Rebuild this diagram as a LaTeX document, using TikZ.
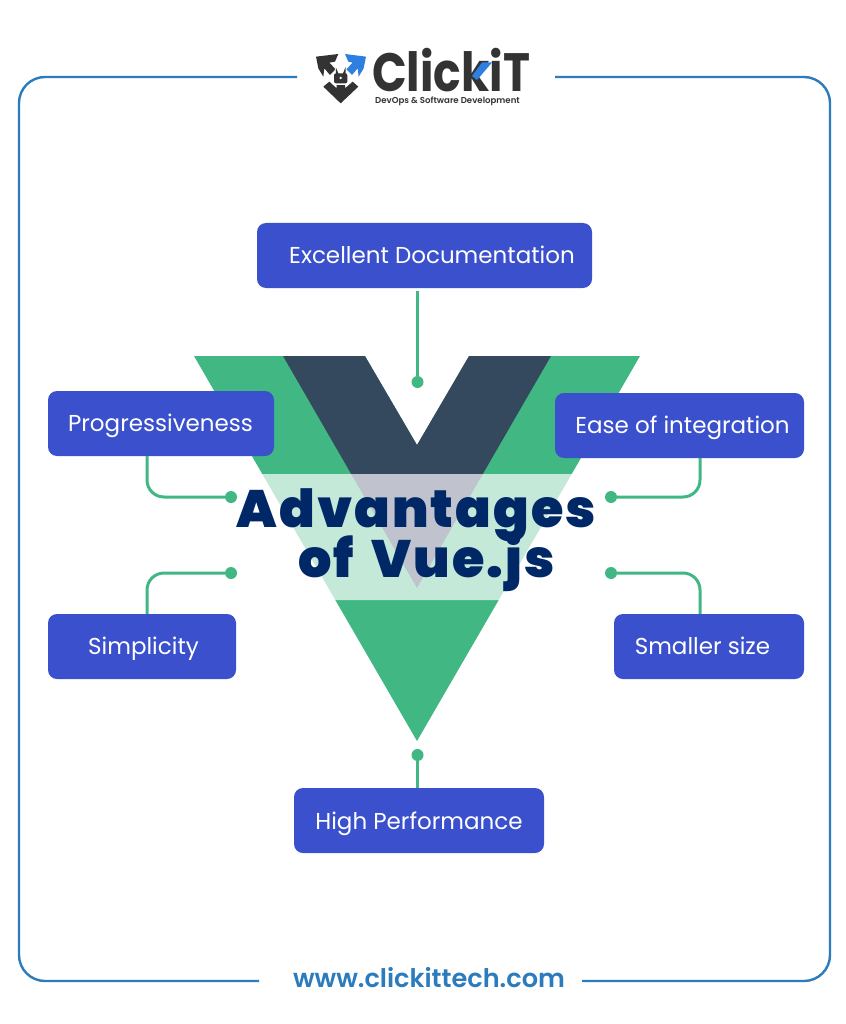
\documentclass[tikz,border=0pt]{standalone}
\usepackage{fontspec}
\setmainfont{Poppins}
\newfontfamily\titlefont[LetterSpace=4,WordSpace=1.6]{Poppins Black}
\newfontfamily\logofont{Poppins SemiBold}
\newfontfamily\logoheavy{Poppins Bold}
\definecolor{boxblue}{HTML}{3B50CC}
\definecolor{vgreen}{HTML}{41B883}
\definecolor{vdark}{HTML}{35495E}
\definecolor{vlight}{HTML}{C4E9D9}
\definecolor{vgrey}{HTML}{C0C3CD}
\definecolor{titlenavy}{HTML}{002766}
\definecolor{framebl}{HTML}{2B7BBD}
\definecolor{logodark}{HTML}{333333}
\definecolor{logoblue}{HTML}{2F7FE0}
\tikzset{
  x=1pt,y=-1pt,
  advbox/.style={fill=boxblue,rounded corners=9pt,inner sep=0pt,minimum height=65pt},
  advlabel/.style={text=white,font=\fontsize{23}{27}\selectfont,inner sep=0pt,anchor=base},
  conn/.style={draw=vgreen,line width=3pt,rounded corners=17pt},
  enddot/.style={circle,fill=vgreen,minimum size=12pt,inner sep=0pt},
  framel/.style={draw=framebl,line width=2.4pt,rounded corners=26pt},
  titletext/.style={text=titlenavy,font=\fontsize{52.5}{58}\titlefont,inner sep=0pt,anchor=base}
}
\begin{document}
\begin{tikzpicture}
\useasboundingbox (0,0) rectangle (845,1024);
\fill[white] (0,0) rectangle (845,1024);
% frame
\draw[framel] (297,77) -- (19,77) -- (19,981) -- (259,981);
\draw[framel] (555,77) -- (830,77) -- (830,981) -- (582,981);
% V
\fill[vgreen] (194,356) -- (640,356) -- (571.7,474) -- (262.3,474) -- cycle;
\fill[vgreen] (335.3,600) -- (498.7,600) -- (417,741) -- cycle;
\fill[white] (365,356) -- (469,356) -- (417,445) -- cycle;
\fill[vdark] (283,356) -- (365,356) -- (417,445) -- (469,356) -- (551,356) -- (482.8,474) -- (351.2,474) -- cycle;
\fill[vlight] (262.3,474) -- (571.7,474) -- (498.7,600) -- (335.3,600) -- cycle;
\fill[vgrey] (351.2,474) -- (482.8,474) -- (417,588) -- cycle;
% boxes
\node[advbox,minimum width=335pt] (doc) at (424.5,255.5) {};
\node[advlabel] (doclab) at (432,263) {Excellent Documentation};
\node[advbox,minimum width=226pt] (prog) at (161,423.5) {};
\node[advlabel] (proglab) at (160.5,431) {Progressiveness};
\node[advbox,minimum width=249pt] (ease) at (679.5,425.5) {};
\node[advlabel] (easelab) at (682.5,433) {Ease of integration};
\node[advbox,minimum width=188pt] (simp) at (142,646.5) {};
\node[advlabel] (simplab) at (143.5,654) {Simplicity};
\node[advbox,minimum width=190pt] (small) at (709,646.5) {};
\node[advlabel] (smalllab) at (702.5,654) {Smaller size};
\node[advbox,minimum width=250pt] (high) at (419,820.5) {};
\node[advlabel] (highlab) at (419,829) {High Performance};
% connectors
\coordinate (lx) at (147,0);
\coordinate (rx) at (700,0);
\node[enddot] (d1) at (417.5,382) {};
\node[enddot] (d2) at (231,497) {};
\node[enddot] (d3) at (611,497) {};
\node[enddot] (d4) at (231,573) {};
\node[enddot] (d5) at (611,573) {};
\node[enddot] (d6) at (417.5,755) {};
\draw[conn] ([yshift=-3pt]doc.south -| d1) -- (d1);
\draw[conn] (prog.south -| lx) -- (lx |- d2) -- (d2);
\draw[conn] (ease.south -| rx) -- (rx |- d3) -- (d3);
\draw[conn] (simp.north -| lx) -- (lx |- d4) -- (d4);
\draw[conn] (small.north -| rx) -- (rx |- d5) -- (d5);
\draw[conn] (high.north -| d6) -- (d6);
% title
\node[titletext] (t1) at (416.5,527) {Advantages};
\node[titletext] (t2) at (426.5,577) {of Vue.js};
% website
\node[text=framebl,font=\fontsize{25.6}{29}\logofont] (web) at (429,978) {www.clickittech.com};
% logo mark
\begin{scope}[shift={(290,40)},x=.3333pt,y=-.3333pt]
\fill[logodark] (78,50) -- (145,42) -- (135,65) -- (118,68) -- (137,88) -- (120,105) -- (103,85) -- (100,110) -- (85,85) -- cycle;
\fill[logoblue] (228,50) -- (165,42) -- (175,65) -- (188,68) -- (169,88) -- (186,105) -- (203,85) -- (206,110) -- (221,85) -- cycle;
\fill[logodark] (100,140) -- (118,125) -- (140,145) -- (140,130) -- (165,130) -- (165,145) -- (188,125) -- (205,140) -- (152,190) -- cycle;
\fill[white] (128,95) rectangle (176,134);
\draw[white,line width=3.6pt] (140,102) -- (140,95) arc[start angle=180,end angle=0,radius=12] -- (164,102);
\fill[logodark,rounded corners=2pt] (132,100) rectangle (172,130);
\draw[logodark,line width=1.8pt] (140,102) -- (140,95) arc[start angle=180,end angle=0,radius=12] -- (164,102);
\fill[white] (152,114) circle[radius=4];
\end{scope}
% logo text
\node[text=logodark,font=\fontsize{54}{56}\logoheavy,inner sep=0pt,anchor=base west,xscale=.845] (logo) at (372,92) {ClickiT};
\fill[logoblue] (472,76) -- (482,62.5) -- (492,62.5) -- (477,80) -- cycle;
\node[text=logodark,font=\fontsize{8.6}{10}\logofont,inner sep=0pt] (tag) at (447.5,101) {DevOps \& Software Development};
\end{tikzpicture}
\end{document}
